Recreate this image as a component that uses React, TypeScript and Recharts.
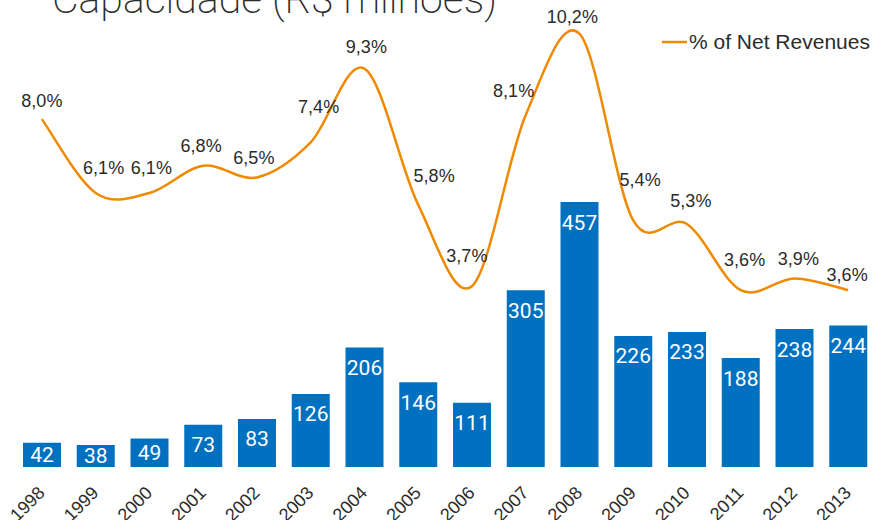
import React from 'react';
import { ComposedChart, Bar, Line, XAxis, YAxis, LabelList } from 'recharts';

// Capacidade (R$ milhões) vs % of Net Revenues, 1998–2013
const years = ['1998', '1999', '2000', '2001', '2002', '2003', '2004', '2005', '2006', '2007', '2008', '2009', '2010', '2011', '2012', '2013'];
const capacity = [42, 38, 49, 73, 83, 126, 206, 146, 111, 305, 457, 226, 233, 188, 238, 244];
const pctNetRevenues = [8.0, 6.1, 6.1, 6.8, 6.5, 7.4, 9.3, 5.8, 3.7, 8.1, 10.2, 5.4, 5.3, 3.6, 3.9, 3.6];

// small nudges so the % labels sit clear of the curve, as in the original slide
const labelDx = [0, 8, 2, -2, -3, 8, 2, 16, -5, -12, -7, 7, 4, 4, 4, -1];
const labelDy = [-19, -25, -25, -20, -20, -36, -22, -29, -31, -25, -17, -41, -24, -31, -20, -16];

const data = years.map((year, i) => ({ year, capacity: capacity[i], pct: pctNetRevenues[i] }));

const BLUE = '#0070C0';
const ORANGE = '#EF8A00';
const TEXT = '#2b2b2b';
const FONT = '"Liberation Sans", Arial, sans-serif';

const fmtPct = (v: number) => v.toFixed(1).replace('.', ',') + '%';

// Excel-style smoothed line (uniform Catmull-Rom through every point)
const smoothCurve = (context: any) => {
  let pts: number[][] = [];
  return {
    areaStart() {},
    areaEnd() {},
    lineStart() {
      pts = [];
    },
    point(x: number, y: number) {
      pts.push([+x, +y]);
    },
    lineEnd() {
      if (!pts.length) return;
      context.moveTo(pts[0][0], pts[0][1]);
      for (let i = 0; i < pts.length - 1; i++) {
        const p0 = pts[i - 1] || pts[i];
        const p1 = pts[i];
        const p2 = pts[i + 1];
        const p3 = pts[i + 2] || p2;
        context.bezierCurveTo(
          p1[0] + (p2[0] - p0[0]) / 6,
          p1[1] + (p2[1] - p0[1]) / 6,
          p2[0] - (p3[0] - p1[0]) / 6,
          p2[1] - (p3[1] - p1[1]) / 6,
          p2[0],
          p2[1]
        );
      }
    },
  };
};

const YearTick = (props: any) => {
  const { x, y, payload } = props;
  const tx = x + 4;
  const ty = y + 27;
  return (
    <text
      x={tx}
      y={ty}
      transform={`rotate(-45, ${tx}, ${ty})`}
      textAnchor="end"
      fontSize={18}
      fontFamily={FONT}
      fill={TEXT}
    >
      {payload.value}
    </text>
  );
};

const BarValueLabel = (props: any) => {
  const { x, y, width, height, value } = props;
  const mid = y + Math.min(20, height / 2);
  return (
    <text
      x={x + width / 2}
      y={mid + 7.5}
      textAnchor="middle"
      fontSize={21}
      fontFamily='"Liberation Sans Narrow", Roboto, sans-serif'
      fill="#ffffff"
    >
      {value}
    </text>
  );
};

const PctLabel = (props: any) => {
  const { x, y, value, index } = props;
  return (
    <text
      x={x + labelDx[index]}
      y={y + labelDy[index] + 6.5}
      textAnchor="middle"
      fontSize={18}
      fontFamily={FONT}
      fill={TEXT}
    >
      {fmtPct(value)}
    </text>
  );
};

export default function App() {
  return (
    <div style={{ position: 'absolute', left: 0, top: 0, width: 872, height: 520, overflow: 'hidden', background: '#fff' }}>
      <svg width={872} height={40} style={{ position: 'absolute', left: 0, top: 0 }}>
        <text x={52} y={13} fontSize={41} fontWeight={200} fontFamily='Roboto, "Open Sans", sans-serif' fill={TEXT}>
          Capacidade (R$ milhões)
        </text>
      </svg>
      {/* legend, top right */}
      <div
        style={{
          position: 'absolute',
          left: 662,
          top: 30,
          display: 'flex',
          alignItems: 'center',
          fontFamily: FONT,
          fontSize: 21,
          color: TEXT,
          whiteSpace: 'nowrap',
          zIndex: 2,
        }}
      >
        <svg width={27} height={10}>
          <line x1={0} y1={5} x2={25} y2={5} stroke={ORANGE} strokeWidth={2.5} />
        </svg>
        <span>% of Net Revenues</span>
      </div>
      <ComposedChart
        width={880}
        height={520}
        data={data}
        margin={{ top: 20, right: 5, bottom: 0, left: 15 }}
        style={{ position: 'absolute', left: 0, top: 0 }}
      >
        <XAxis
          dataKey="year"
          height={53}
          interval={0}
          axisLine={false}
          tickLine={false}
          tickSize={0}
          tickMargin={0}
          tick={<YearTick />}
        />
        <YAxis yAxisId="bar" hide domain={[0, 771]} allowDataOverflow />
        <YAxis yAxisId="pct" hide domain={[-0.95, 10.55]} allowDataOverflow />
        <Bar
          yAxisId="bar"
          dataKey="capacity"
          fill={BLUE}
          barSize={38}
          isAnimationActive={false}
        >
          <LabelList dataKey="capacity" content={<BarValueLabel />} />
        </Bar>
        <Line
          yAxisId="pct"
          dataKey="pct"
          name="% of Net Revenues"
          type={smoothCurve as any}
          stroke={ORANGE}
          strokeWidth={2.5}
          dot={false}
          activeDot={false}
          isAnimationActive={false}
        >
          <LabelList dataKey="pct" content={<PctLabel />} />
        </Line>
      </ComposedChart>
    </div>
  );
}
